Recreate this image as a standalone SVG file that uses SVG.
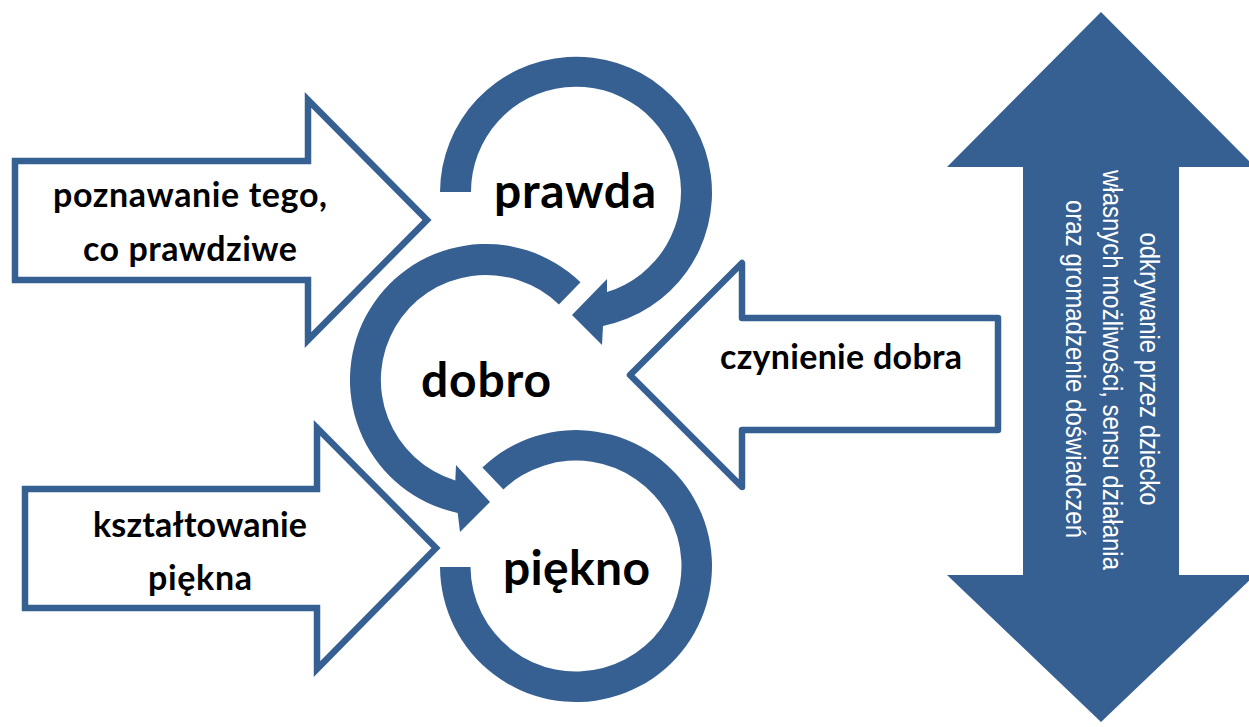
<svg xmlns="http://www.w3.org/2000/svg" width="1249" height="727" viewBox="0 0 1249 727">
<style>
.blk{fill:#376092;}
.out{fill:#ffffff;stroke:#376092;stroke-width:6.5;}
.lbl{font-family:Lato,"Open Sans","Liberation Sans",sans-serif;font-weight:bold;fill:#000000;text-anchor:middle;}
.big{font-size:48px;}
.mid{font-size:34px;}
.vt{font-family:"Liberation Sans",Arial,sans-serif;font-size:27px;fill:#ffffff;text-anchor:middle;}
</style>
<rect width="1249" height="727" fill="#ffffff"/>
<g id="connectors">
  <g id="arrow-prawda-in">
    <polygon class="out" points="15,161 308,161 308,100 427,220 308,340 308,280 15,280"/>
  </g>
  <g id="arrow-dobro-in">
    <polygon class="out" stroke-linejoin="round" points="630,375 742,263 742,318 998,318 998,430 742,430 742,487"/>
  </g>
  <g id="arrow-piekno-in">
    <polygon class="out" points="25,489 317,489 317,428 436,548 317,669 317,608 25,608"/>
  </g>
</g>
<g id="node-poznawanie">
  <text class="lbl mid" x="190" y="207" textLength="274">poznawanie tego,</text>
  <text class="lbl mid" x="190" y="261" textLength="214">co prawdziwe</text>
</g>
<g id="node-czynienie">
  <text class="lbl mid" x="841" y="369" textLength="242">czynienie dobra</text>
</g>
<g id="node-ksztaltowanie">
  <text class="lbl mid" x="200" y="537" textLength="214">kształtowanie</text>
  <text class="lbl mid" x="200" y="590" textLength="104">piękna</text>
</g>
<g id="node-prawda">
  <path class="blk" d="M440,192 A136,136 0 1 1 603,326 L602,345 L572,315 L607,279 L607,292 A105,105 0 1 0 471,192 Z"/>
  <text class="lbl big" x="575" y="208" textLength="162">prawda</text>
</g>
<g id="node-dobro">
  <path class="blk" d="M580.5,282.2 A136,136 0 1 0 457.7,513 L460,532 L490,502 L456,465 L455.3,480.4 A105,105 0 1 1 558.9,304.5 Z"/>
  <text class="lbl big" x="486" y="397" textLength="130">dobro</text>
</g>
<g id="node-piekno">
  <path class="blk" d="M440,567 A136,136 0 1 0 482.4,467.4 L503.4,489.5 A105.5,105.5 0 1 1 470.5,567 Z"/>
  <text class="lbl big" x="576.5" y="585" textLength="147">piękno</text>
</g>
<g id="node-odkrywanie">
  <polygon class="blk" points="1101,12 1255,167 1179,167 1179,575 1255,575 1101,722 947,575 1023,575 1023,167 947,167"/>
  <text class="vt" transform="translate(1140,369) rotate(90)" x="0" y="0" textLength="273" lengthAdjust="spacingAndGlyphs">odkrywanie przez dziecko</text>
  <text class="vt" transform="translate(1103,370) rotate(90)" x="0" y="0" textLength="400" lengthAdjust="spacingAndGlyphs">własnych możliwości, sensu działania</text>
  <text class="vt" transform="translate(1066,369) rotate(90)" x="0" y="0" textLength="338" lengthAdjust="spacingAndGlyphs">oraz gromadzenie doświadczeń</text>
</g>
</svg>
